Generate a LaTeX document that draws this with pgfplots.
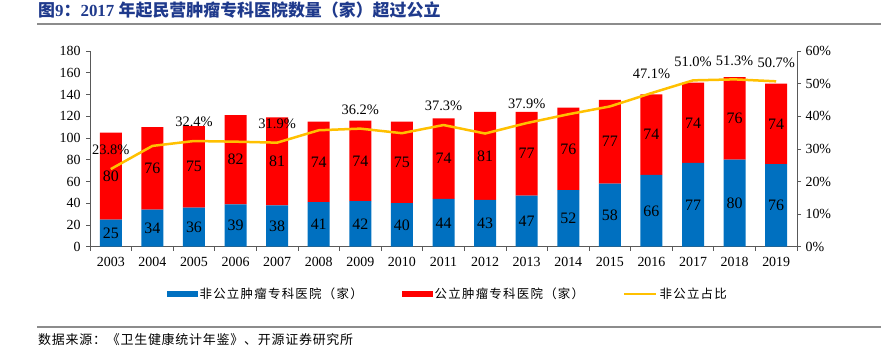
\documentclass[border=0pt]{standalone}
\usepackage{fontspec}
\setmainfont{Liberation Serif}
\newfontfamily\cjk{Noto Sans CJK SC}
\newfontfamily\cjkleg{Noto Sans CJK SC}[LetterSpace=10]
\newfontfamily\cjksrc{Noto Sans CJK SC}[LetterSpace=6]
\usepackage{pgfplots}
\pgfplotsset{compat=1.18}
\usepackage{pgfplotstable}
\definecolor{cblue}{HTML}{0070C0}
\definecolor{cred}{HTML}{FF0000}
\definecolor{cgold}{HTML}{FFC000}
\definecolor{ctitle}{HTML}{1F3A8C}
\definecolor{caxis}{HTML}{595959}

\pgfplotstableread{
x b r p
0 25 80 23.8
1 34 76 30.9
2 36 75 32.4
3 39 82 32.2
4 38 81 31.9
5 41 74 35.7
6 42 74 36.2
7 40 75 34.8
8 44 74 37.3
9 43 81 34.7
10 47 77 37.9
11 52 76 40.6
12 58 77 43.0
13 66 74 47.1
14 77 74 51.0
15 80 76 51.3
16 76 74 50.7
}\data

\pgfplotsset{
  common/.style={
    at={(90bp,105.3bp)}, anchor=south west, scale only axis,
    width=707bp, height=195.7bp, xmin=-0.5, xmax=16.5,
    /pgf/number format/assume math mode=true,
    ticklabel style={font=\fontsize{14}{16}\selectfont},
    axis line style={draw=caxis, line width=0.7bp, -},
    tick style={draw=caxis, line width=0.7bp},
    tick align=outside, major tick length=4bp,
  }
}

\begin{document}
\begin{tikzpicture}
\useasboundingbox (0,0) rectangle (883bp,352bp);
\node[anchor=west, text=ctitle, font=\bfseries\fontsize{17}{19}\selectfont, inner sep=0] at (38bp,342bp) {{\cjk 图}9{\cjk ：}2017 {\cjk 年起民营肿瘤专科医院数量（家）超过公立}};
\draw[black!45, line width=1.5bp] (37bp,328bp) -- (881bp,328bp);
\draw[black!45, line width=1.5bp] (37bp,25bp) -- (881bp,25bp);
\node[anchor=west, inner sep=0, font=\cjksrc\fontsize{13}{15}\selectfont] at (38bp,12bp) {数据来源：《卫生健康统计年鉴》、开源证券研究所};

\begin{axis}[common,
  ybar stacked, bar width=22bp,
  ymin=0, ymax=180, ytick={0,20,...,180},
  xtick={-0.5,0.5,...,16.5}, x tick label as interval,
  xticklabels={2003,2004,2005,2006,2007,2008,2009,2010,2011,2012,2013,2014,2015,2016,2017,2018,2019},
  xticklabel style={yshift=-3bp},
  yticklabel style={xshift=-2bp},
  axis x line*=bottom, axis y line*=left,
  legend style={at={(0.506,-0.242)}, anchor=center, draw=none, fill=none,
    legend columns=3, /tikz/every even column/.append style={column sep=37bp},
    font=\cjkleg\fontsize{12.5}{14}\selectfont, cells={anchor=west}},
]
\addplot[fill=cblue, draw=none,
  legend image code/.code={\fill[cblue] (0bp,-3bp) rectangle (31bp,3bp);}]
  table[x=x, y=b]{\data};
\addlegendentry{非公立肿瘤专科医院（家）}
\addplot[fill=cred, draw=none,
  legend image code/.code={\fill[cred] (0bp,-3bp) rectangle (31bp,3bp);}]
  table[x=x, y=r]{\data};
\addlegendentry{公立肿瘤专科医院（家）}
\addlegendimage{legend image code/.code={\draw[cgold, line width=2.5bp] (0bp,0bp) -- (32bp,0bp);}}
\addlegendentry{非公立占比}
\end{axis}

\begin{axis}[common,
  ymin=0, ymax=60, ytick={0,10,...,60},
  axis y line*=right, axis x line=none,
  yticklabel={\pgfmathprintnumber{\tick}\%},
  yticklabel style={xshift=1bp},
]
\addplot[cgold, line width=2.5bp, mark=none] table[x=x, y=p]{\data};
\addplot[draw=none, mark=none, nodes near coords, point meta=explicit symbolic,
  nodes near coords style={anchor=center, yshift=19bp, font=\fontsize{14.5}{16}\selectfont, text=black}]
  coordinates {(0,23.8)[23.8\%] (2,32.4)[32.4\%] (4,31.9)[31.9\%] (6,36.2)[36.2\%]
    (8,37.3)[37.3\%] (10,37.9)[37.9\%] (13,47.1)[47.1\%] (14,51.0)[51.0\%]
    (15,51.3)[51.3\%] (16,50.7)[50.7\%]};
\end{axis}

\begin{axis}[common, hide axis, ymin=0, ymax=180]
\addplot[draw=none, mark=none, nodes near coords, point meta=explicit,
  nodes near coords={\pgfmathprintnumber{\pgfplotspointmeta}},
  nodes near coords style={anchor=center, font=\fontsize{16}{18}\selectfont, text=black}]
  table[x=x, y expr=\thisrow{b}/2, meta=b]{\data};
\addplot[draw=none, mark=none, nodes near coords, point meta=explicit,
  nodes near coords={\pgfmathprintnumber{\pgfplotspointmeta}},
  nodes near coords style={anchor=center, font=\fontsize{16}{18}\selectfont, text=black}]
  table[x=x, y expr=\thisrow{b}+\thisrow{r}/2, meta=r]{\data};
\end{axis}
\end{tikzpicture}
\end{document}
